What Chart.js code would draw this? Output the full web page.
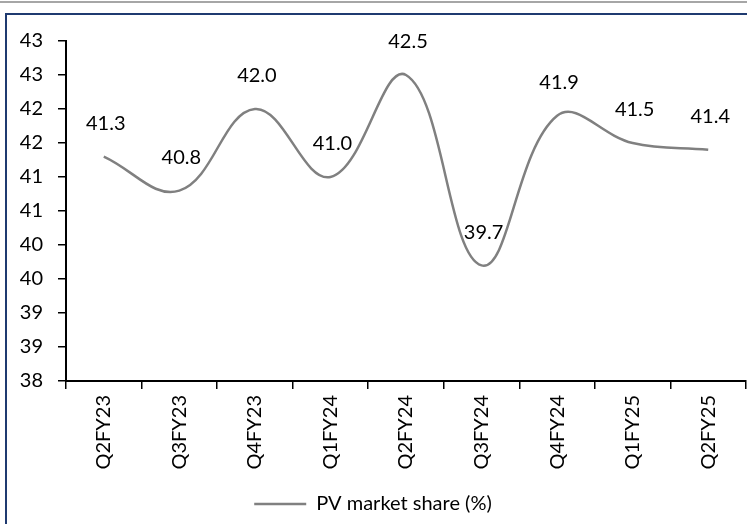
<!DOCTYPE html>
<html>
<head>
<meta charset="utf-8">
<script src="https://cdn.jsdelivr.net/npm/chart.js@4/dist/chart.umd.min.js"></script>
<style>
  html, body { margin: 0; padding: 0; background: #ffffff; }
  #wrap { position: relative; width: 747px; height: 524px; overflow: hidden; }
  #topRule { position: absolute; left: 0; top: 1px; width: 747px; height: 2px; background: #a6a6a6; }
  #frame { position: absolute; left: 5px; top: 13px; width: 760px; height: 540px;
           border-left: 2px solid #1f3a70; border-top: 2px solid #1f3a70; }
  canvas { position: absolute; left: 0; top: 0; }
</style>
</head>
<body>
<div id="wrap">
  <div id="topRule"></div>
  <div id="frame"></div>
  <canvas id="chart" width="747" height="524"></canvas>
</div>
<script>
// Quarterly passenger-vehicle market share (%)
const quarters = ['Q2FY23', 'Q3FY23', 'Q4FY23', 'Q1FY24', 'Q2FY24', 'Q3FY24', 'Q4FY24', 'Q1FY25', 'Q2FY25'];
const pvShare = [41.3, 40.8, 42.0, 41.0, 42.5, 39.7, 41.9, 41.5, 41.4];
const seriesName = 'PV market share (%)';
const yMin = 38, yMax = 43, yStep = 0.5;

const FONT = 'Lato, "Open Sans", sans-serif';

// writes each point's value above it
const valueLabels = {
  id: 'valueLabels',
  afterDatasetsDraw(chart) {
    const ctx = chart.ctx;
    const meta = chart.getDatasetMeta(0);
    ctx.save();
    ctx.font = '20px ' + FONT;
    ctx.fillStyle = '#000000';
    ctx.textAlign = 'center';
    ctx.textBaseline = 'middle';
    meta.data.forEach((pt, i) => {
      ctx.fillText(pvShare[i].toFixed(1), pt.x + 2, pt.y - 33);
    });
    ctx.restore();
  }
};

new Chart(document.getElementById('chart'), {
  type: 'line',
  data: {
    labels: quarters,
    datasets: [{
      label: seriesName,
      data: pvShare,
      borderColor: '#808080',
      backgroundColor: '#808080',
      borderWidth: 2.5,
      pointRadius: 0,
      pointHoverRadius: 0,
      tension: 0.4,
      fill: false
    }]
  },
  options: {
    responsive: false,
    animation: false,
    events: [],
    layout: { padding: { left: 0, right: 1, top: 41, bottom: 0 } },
    plugins: {
      tooltip: { enabled: false },
      legend: {
        position: 'bottom',
        labels: {
          usePointStyle: true,
          pointStyle: 'line',
          pointStyleWidth: 52,
          color: '#000000',
          font: { family: FONT, size: 20 },
          padding: 2
        }
      }
    },
    scales: {
      x: {
        type: 'category',
        offset: true,
        afterFit(scale) {
          const legendH = scale.chart.legend ? scale.chart.legend.height : 0;
          scale.height = scale.chart.height - 381 - legendH;
        },
        grid: {
          display: true,
          offset: true,
          drawOnChartArea: false,
          drawTicks: true,
          tickLength: 8,
          color: '#000000',
          lineWidth: 1.5
        },
        border: { display: true, color: '#000000', width: 2 },
        ticks: {
          minRotation: 90,
          maxRotation: 90,
          autoSkip: false,
          padding: 6,
          color: '#000000',
          font: { family: FONT, size: 20 }
        }
      },
      y: {
        min: yMin,
        max: yMax,
        afterFit(scale) { scale.width = 66; },
        grid: {
          display: true,
          drawOnChartArea: false,
          drawTicks: true,
          tickLength: 8,
          color: '#000000',
          lineWidth: 1.5
        },
        border: { display: true, color: '#000000', width: 2 },
        ticks: {
          stepSize: yStep,
          padding: 15,
          color: '#000000',
          font: { family: FONT, size: 20 },
          callback: (v) => Math.round(v).toString()
        }
      }
    }
  },
  plugins: [valueLabels]
});
</script>
</body>
</html>
